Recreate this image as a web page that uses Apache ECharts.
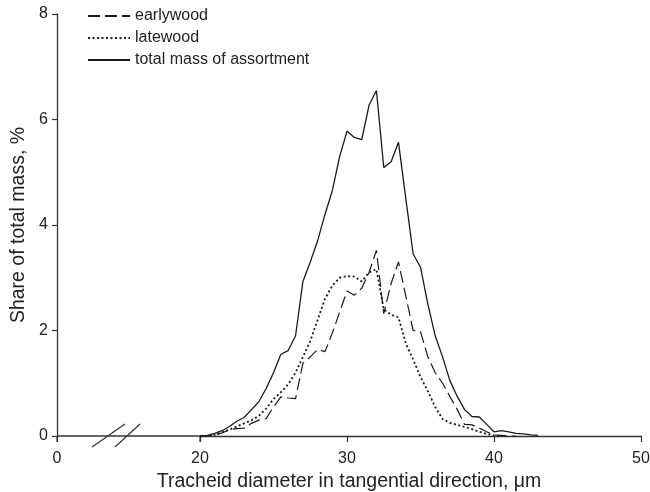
<!DOCTYPE html>
<html>
<head>
<meta charset="utf-8">
<script src="https://cdn.jsdelivr.net/npm/echarts@6/dist/echarts.min.js"></script>
<style>
html,body{margin:0;padding:0;background:#fff;}
#chart{width:650px;height:492px;}
</style>
</head>
<body>
<div id="chart"></div>
<script>
// Tracheid diameter, µm
var diameters = [20,20.5,21,21.5,22,22.5,23,23.5,24,24.5,25,25.5,26,26.5,27,27.5,28,28.5,29,29.5,30,30.5,31,31.5,32,32.5,33,33.5,34,34.5,35,35.5,36,36.5,37,37.5,38,38.5,39,39.5,40,40.5,41,41.5,42,42.5,43];
// Share of total mass, %
var earlywood = [0,0,0.02,0.06,0.12,0.14,0.15,0.24,0.30,0.33,0.55,0.74,0.72,0.71,1.38,1.50,1.64,1.60,1.95,2.35,2.75,2.67,2.80,3.10,3.52,2.32,2.89,3.30,2.65,2.00,1.98,1.50,1.20,1.00,0.75,0.50,0.22,0.21,0.15,0.08,0.02,0.01,0,0,null,null,null];
var latewood = [0,0,0.02,0.07,0.12,0.18,0.24,0.30,0.38,0.52,0.70,0.83,0.98,1.20,1.50,1.80,2.20,2.60,2.85,3.00,3.03,3.02,2.93,3.10,3.16,2.40,2.30,2.25,1.75,1.45,1.12,0.85,0.55,0.32,0.25,0.21,0.17,0.13,0.08,0.04,0.01,0,null,null,null,null,null];
var totalMass = [0,0.01,0.05,0.10,0.18,0.28,0.35,0.50,0.65,0.90,1.20,1.55,1.62,1.90,2.93,3.30,3.70,4.20,4.65,5.30,5.78,5.66,5.62,6.27,6.55,5.09,5.20,5.57,4.50,3.45,3.20,2.50,1.90,1.50,1.05,0.75,0.50,0.37,0.36,0.22,0.08,0.10,0.08,0.05,0.04,0.02,0.01];
var seriesNames = ['earlywood','latewood','total mass of assortment'];
var xTickLabels = [0,20,30,40,50];
var yTickLabels = [0,2,4,6,8];
var xBreak = {start: 0, end: 20};

function pairs(ys){
  var out = [];
  for (var i = 0; i < diameters.length; i++) {
    if (ys[i] !== null && ys[i] !== undefined) out.push([diameters[i], ys[i]]);
  }
  return out;
}

var FONT = '"Liberation Sans", Arial, sans-serif';
var INK = '#222';
var AXC = '#333';
var chart = echarts.init(document.getElementById('chart'), null, {renderer:'canvas'});
chart.setOption({
  animation: false,
  backgroundColor: '#fff',
  textStyle: {fontFamily: FONT},
  grid: {left: 57, right: 9, top: 14, bottom: 56, outerBoundsMode: 'none'},
  legend: {
    orient: 'vertical', left: 82, top: 3,
    itemWidth: 42, itemHeight: 14, itemGap: 6,
    itemStyle: {opacity: 0},
    textStyle: {fontFamily: FONT, fontSize: 16, color: INK},
    data: seriesNames
  },
  xAxis: {
    type: 'value', min: 0, max: 50, interval: 10,
    breaks: [{start: xBreak.start, end: xBreak.end, gap: 9.73}],
    breakArea: {show: false},
    splitLine: {show: false},
    axisLine: {lineStyle: {color: AXC, width: 1.3}},
    axisTick: {length: 6, lineStyle: {color: AXC, width: 1.2}},
    axisLabel: {
      fontFamily: FONT, fontSize: 16, color: INK, margin: 15,
      formatter: function(v){ return xTickLabels.indexOf(v) >= 0 ? String(v) : ''; }
    },
    name: 'Tracheid diameter in tangential direction, \u03bcm',
    nameLocation: 'middle', nameGap: 32,
    nameTextStyle: {fontFamily: FONT, fontSize: 19.5, color: INK}
  },
  yAxis: {
    type: 'value', min: 0, max: 8, interval: 2,
    splitLine: {show: false},
    axisLine: {show: true, lineStyle: {color: AXC, width: 1.3}},
    axisTick: {show: true, length: 5, lineStyle: {color: AXC, width: 1.2}},
    axisLabel: {
      fontFamily: FONT, fontSize: 16, color: INK, margin: 9,
      formatter: function(v){ return yTickLabels.indexOf(v) >= 0 ? String(v) : ''; }
    },
    name: 'Share of total mass, %',
    nameLocation: 'middle', nameGap: 28,
    nameTextStyle: {fontFamily: FONT, fontSize: 19.5, color: INK}
  },
  series: [
    {name: seriesNames[0], type: 'line', data: pairs(earlywood), symbol: 'none',
     lineStyle: {color: '#1a1a1a', width: 1.2, type: [12, 5]}, itemStyle: {color: '#1a1a1a'}},
    {name: seriesNames[1], type: 'line', data: pairs(latewood), symbol: 'none',
     lineStyle: {color: '#1a1a1a', width: 1.8, type: [2, 2.5]}, itemStyle: {color: '#1a1a1a'}},
    {name: seriesNames[2], type: 'line', data: pairs(totalMass), symbol: 'none',
     lineStyle: {color: '#1a1a1a', width: 1.3, type: 'solid'}, itemStyle: {color: '#1a1a1a'}}
  ]
});

// axis line across the break and ticks at the break ends, positioned via the axis scale
var xa = chart.convertToPixel({xAxisIndex: 0}, xBreak.start);
var xb = chart.convertToPixel({xAxisIndex: 0}, xBreak.end);
var y0 = chart.convertToPixel({yAxisIndex: 0}, 0);
chart.setOption({
  graphic: [
    {type: 'line', shape: {x1: xa, y1: y0, x2: xb, y2: y0}, style: {stroke: AXC, lineWidth: 1.3}},
    {type: 'line', shape: {x1: xa, y1: y0, x2: xa, y2: y0 + 6}, style: {stroke: AXC, lineWidth: 1.2}},
    {type: 'line', shape: {x1: xb, y1: y0, x2: xb, y2: y0 + 6}, style: {stroke: AXC, lineWidth: 1.2}},
    {type: 'line', shape: {x1: 92, y1: 447, x2: 125, y2: 424}, style: {stroke: AXC, lineWidth: 1.2}},
    {type: 'line', shape: {x1: 115, y1: 447, x2: 140, y2: 424}, style: {stroke: AXC, lineWidth: 1.2}}
  ]
});
</script>
</body>
</html>
